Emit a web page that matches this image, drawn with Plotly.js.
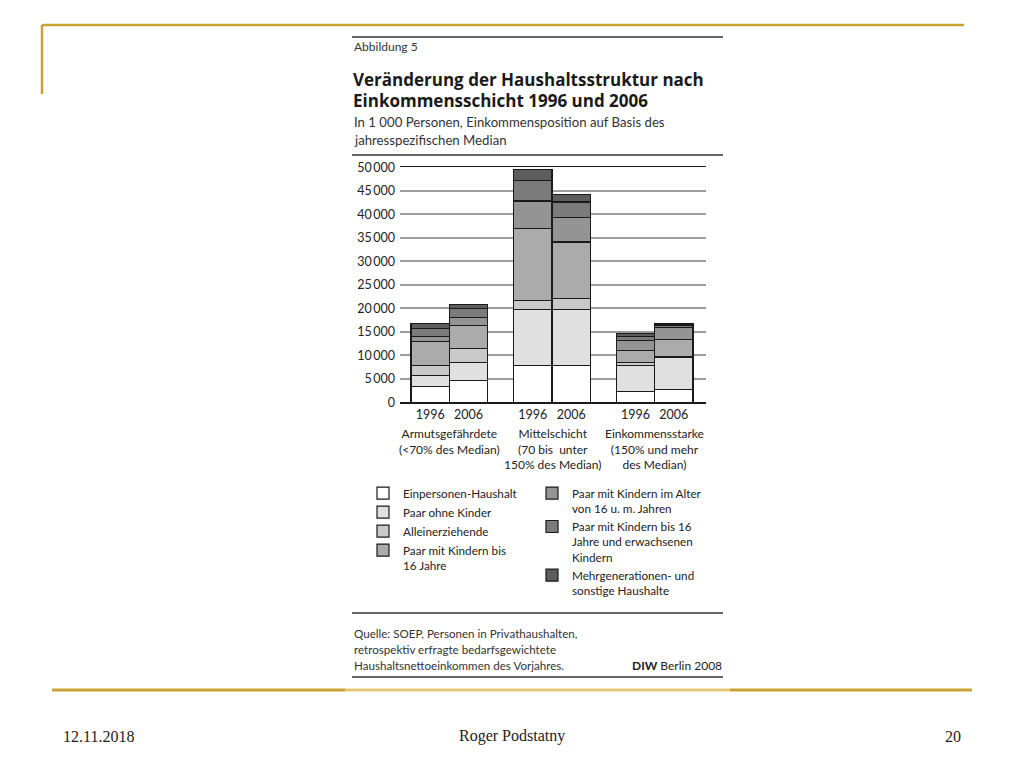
<!DOCTYPE html>
<html>
<head>
<meta charset="utf-8">
<script src="https://cdn.plot.ly/plotly-3.0.1.min.js"></script>
<style>
html,body{margin:0;padding:0;background:#fff;}
#chart{width:1024px;height:768px;}
</style>
</head>
<body>
<div id="chart"></div>
<script>
// ---- data ----
const groups = ["Armutsgefährdete<br>(<70% des Median)", "Mittelschicht<br>(70 bis  unter<br>150% des Median)", "Einkommensstarke<br>(150% und mehr<br>des Median)"];
const years = ["1996", "2006"];
const seriesNames = [
  "Einpersonen-Haushalt",
  "Paar ohne Kinder",
  "Alleinerziehende",
  "Paar mit Kindern bis<br>16 Jahre",
  "Paar mit Kindern im Alter<br>von 16 u. m. Jahren",
  "Paar mit Kindern bis 16<br>Jahre und erwachsenen<br>Kindern",
  "Mehrgenerationen- und<br>sonstige Haushalte"
];
// values per bar: [Arm 1996, Arm 2006, Mittel 1996, Mittel 2006, Stark 1996, Stark 2006], in 1 000 Personen
const einpersonen   = [3300, 4600, 7800, 7800, 2250, 2750];
const paarOhne      = [2350, 3850, 12000, 12000, 5600, 6750];
const alleinerz     = [2150, 2950, 1850, 2300, 700, 300];
const paarBis16     = [5100, 4900, 15350, 12000, 2450, 3500];
const paar16plus    = [1100, 1800, 5850, 5300, 2150, 2600];
const paarBis16Erw  = [1700, 1800, 4350, 3200, 850, 550];
const mehrgen       = [1000, 950, 2350, 1550, 600, 300];
const seriesValues = [einpersonen, paarOhne, alleinerz, paarBis16, paar16plus, paarBis16Erw, mehrgen];
const yTicks = [0, 5000, 10000, 15000, 20000, 25000, 30000, 35000, 40000, 45000, 50000];

// ---- styles ----
const colors = ["#ffffff", "#e0e0e1", "#c9c9ca", "#ababac", "#949495", "#7b7b7c", "#5d5d5e"];
const FONT = "Lato, 'Open Sans', sans-serif";
const TFONT = "'Open Sans', Lato, sans-serif";
const SERIF = "'Liberation Serif', 'Times New Roman', serif";
const GAP = 0.675; // gap between groups in bar widths

const xPos = [];
const xText = [];
groups.forEach((g, gi) => years.forEach((y, yi) => { xPos.push(gi * (2 + GAP) + yi); xText.push(y); }));
const groupCenters = groups.map((g, gi) => gi * (2 + GAP) + 0.5);

const traces = seriesNames.map((name, i) => ({
  type: "bar",
  name: name,
  x: xPos,
  y: seriesValues[i],
  width: 1,
  marker: {color: colors[i], line: {color: "#1a1a1a", width: 1.2}},
  legend: i < 4 ? "legend" : "legend2",
  hoverinfo: "skip"
}));

const X = px => px / 1024;
const Y = py => 1 - py / 768;

function txt(text, px, py, opts) {
  return Object.assign({
    text: text, x: X(px), y: Y(py), xref: "paper", yref: "paper",
    xanchor: "left", yanchor: "middle", showarrow: false, borderpad: 0,
    font: {family: FONT, size: 12, color: "#2a2a2a"}
  }, opts || {});
}
function line(x0, y0, x1, y1, color, w) {
  return {type: "line", xref: "paper", yref: "paper", x0: X(x0), y0: Y(y0), x1: X(x1), y1: Y(y1),
    line: {color: color, width: w}, layer: "above"};
}

const annotations = [
  txt("Abbildung 5", 353, 47, {font: {family: FONT, size: 12, color: "#333"}}),
  txt("<b>Veränderung der Haushaltsstruktur nach</b>", 352, 79, {font: {family: TFONT, size: 17, color: "#1a1a1a"}}),
  txt("<b>Einkommensschicht 1996 und 2006</b>", 352, 101, {font: {family: TFONT, size: 17, color: "#1a1a1a"}}),
  txt("In 1 000 Personen, Einkommensposition auf Basis des", 353, 122, {font: {family: FONT, size: 13.2, color: "#333"}}),
  txt("jahresspezifischen Median", 353, 140, {font: {family: FONT, size: 13.2, color: "#333"}}),
  txt("Quelle: SOEP, Personen in Privathaushalten,", 353, 633, {font: {family: FONT, size: 11.6, color: "#333"}}),
  txt("retrospektiv erfragte bedarfsgewichtete", 353, 649, {font: {family: FONT, size: 11.6, color: "#333"}}),
  txt("Haushaltsnettoeinkommen des Vorjahres.", 353, 665, {font: {family: FONT, size: 11.6, color: "#333"}}),
  txt("<b>DIW</b> Berlin 2008", 723, 665, {xanchor: "right", font: {family: FONT, size: 12, color: "#222"}}),
  txt("12.11.2018", 62, 736, {font: {family: SERIF, size: 16, color: "#222"}}),
  txt("Roger Podstatny", 512, 736, {xanchor: "center", font: {family: SERIF, size: 16, color: "#222"}}),
  txt("20", 962, 736, {xanchor: "right", font: {family: SERIF, size: 16, color: "#222"}})
];
groups.forEach((g, gi) => {
  annotations.push({
    text: g, x: groupCenters[gi], xref: "x", y: Y(425), yref: "paper",
    xanchor: "center", yanchor: "top", showarrow: false, align: "center", borderpad: 0,
    font: {family: FONT, size: 12, color: "#222"}
  });
});

const gold = "#c9a232";
const shapes = [
  line(42, 25, 964, 25, gold, 2.5),
  line(42, 25, 42, 94, gold, 2.5),
  line(52, 690, 345, 690, gold, 3),
  line(345, 690, 730, 690, "#e4c878", 3),
  line(730, 690, 972, 690, gold, 3),
  line(352, 37, 723, 37, "#333", 1.5),
  line(352, 155, 723, 155, "#333", 1.5),
  line(352, 613, 723, 613, "#333", 1.5),
  line(352, 677, 723, 677, "#333", 1.5)
];

const legendCommon = {
  orientation: "v", traceorder: "normal", valign: "top",
  bgcolor: "rgba(0,0,0,0)", borderwidth: 0,
  font: {family: FONT, size: 11.7, color: "#222"},
  xanchor: "left", yanchor: "top", tracegroupgap: 0
};

const layout = {
  width: 1024, height: 768,
  margin: {l: 0, r: 0, t: 0, b: 0},
  paper_bgcolor: "#fff", plot_bgcolor: "#fff",
  separators: ",\u2009",
  barmode: "stack",
  showlegend: true,
  xaxis: {
    domain: [X(400), X(706)],
    range: [-0.5 - 11 / 38.5, 2 * (2 + GAP) + 1.5 + 13 / 38.5],
    tickvals: xPos, ticktext: xText, ticks: "",
    showgrid: false, zeroline: false,
    showline: true, mirror: true, linecolor: "#1a1a1a", linewidth: 1.5,
    tickfont: {family: FONT, size: 12.5, color: "#222"},
    fixedrange: true
  },
  yaxis: {
    domain: [Y(402.3), Y(167.3)],
    range: [0, 50000],
    tickvals: yTicks, tickformat: ",d", ticks: "",
    showgrid: true, gridcolor: "#9d9d9d", gridwidth: 1.8,
    zeroline: false, showline: false,
    tickfont: {family: FONT, size: 12.5, color: "#222"},
    ticklabelstandoff: 4,
    fixedrange: true
  },
  legend: Object.assign({}, legendCommon, {x: X(363), y: Y(479)}),
  legend2: Object.assign({}, legendCommon, {x: X(532), y: Y(479)}),
  annotations: annotations,
  shapes: shapes
};

Plotly.newPlot("chart", traces, layout, {displayModeBar: false, staticPlot: true});
</script>
</body>
</html>
